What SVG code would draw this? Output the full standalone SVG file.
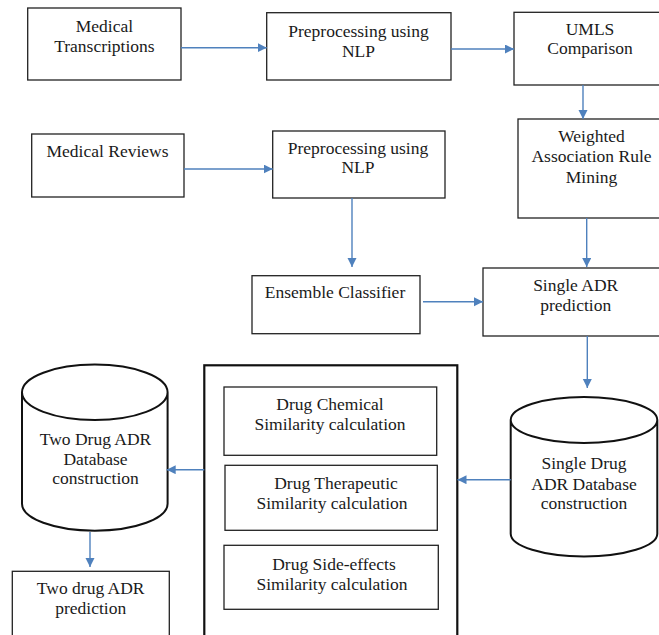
<svg xmlns="http://www.w3.org/2000/svg" width="659" height="635" viewBox="0 0 659 635">
<style>
.box{fill:#fff;stroke:#222;stroke-width:1.3}
.cyl{fill:#fff;stroke:#111;stroke-width:2}
.cont{fill:#fff;stroke:#111;stroke-width:2.2}
.t{font-family:'Liberation Serif','Times New Roman',Times,'DejaVu Serif',serif;font-size:17.5px;fill:#1a1a1a;text-anchor:middle}
.c{fill:none;stroke:#4f81bd;stroke-width:1.4}
</style>
<defs>
<marker id="ah" markerUnits="userSpaceOnUse" markerWidth="10" markerHeight="10" refX="9" refY="4.5" orient="auto">
<path d="M0,0 L9,4.5 L0,9 z" fill="#4f81bd"/>
</marker>
</defs>
<rect width="659" height="635" fill="#fff"/>
<g id="container"><rect class="cont" x="204.3" y="365.3" width="253" height="290"/></g>
<g id="n1"><rect class="box" x="27.7" y="8" width="153.3" height="72"/><text class="t" x="104.4" y="32">Medical</text><text class="t" x="104.4" y="52">Transcriptions</text></g>
<g id="n2"><rect class="box" x="266.7" y="12.7" width="184.3" height="67.3"/><text class="t" x="358.5" y="37">Preprocessing using</text><text class="t" x="358.5" y="57">NLP</text></g>
<g id="n3"><rect class="box" x="514" y="12.3" width="160" height="72.7"/><text class="t" x="590" y="35">UMLS</text><text class="t" x="590" y="54">Comparison</text></g>
<g id="n4"><rect class="box" x="31.7" y="134" width="152.3" height="63"/><text class="t" x="107.5" y="157">Medical Reviews</text></g>
<g id="n5"><rect class="box" x="272.7" y="131" width="172.3" height="67"/><text class="t" x="358" y="154">Preprocessing using</text><text class="t" x="358" y="173">NLP</text></g>
<g id="n6"><rect class="box" x="518" y="119" width="160" height="99"/><text class="t" x="591.5" y="142">Weighted</text><text class="t" x="591.5" y="162">Association Rule</text><text class="t" x="591.5" y="183">Mining</text></g>
<g id="n7"><rect class="box" x="252" y="275.7" width="168" height="58"/><text class="t" x="335" y="298">Ensemble Classifier</text></g>
<g id="n8"><rect class="box" x="483" y="268" width="190" height="68"/><text class="t" x="575.7" y="291">Single ADR</text><text class="t" x="575.7" y="311">prediction</text></g>
<g id="n9"><path class="cyl" d="M510.7,420 L510.7,533.7 A73.3,22.7 0 0 0 657.3,533.7 L657.3,420 A73.3,23 0 0 0 510.7,420 A73.3,23 0 0 0 657.3,420"/><text class="t" x="584" y="468.7">Single Drug</text><text class="t" x="584" y="489.7">ADR Database</text><text class="t" x="584" y="508.7">construction</text></g>
<g id="n10"><rect class="box" x="224" y="387" width="212.7" height="68.3"/><text class="t" x="330" y="410.3">Drug Chemical</text><text class="t" x="330" y="430.3">Similarity calculation</text></g>
<g id="n11"><rect class="box" x="225" y="465.3" width="212.3" height="65"/><text class="t" x="336" y="488.7">Drug Therapeutic</text><text class="t" x="332" y="508.7">Similarity calculation</text></g>
<g id="n12"><rect class="box" x="224" y="545.3" width="214.3" height="64"/><text class="t" x="334" y="569.7">Drug Side-effects</text><text class="t" x="332" y="589.7">Similarity calculation</text></g>
<g id="n13"><path class="cyl" d="M22,392.3 L22,503.7 A72.8,27 0 0 0 167.6,503.7 L167.6,392.3 A72.8,27.7 0 0 0 22,392.3 A72.8,27.7 0 0 0 167.6,392.3"/><text class="t" x="95.5" y="444.7">Two Drug ADR</text><text class="t" x="95.5" y="464.7">Database</text><text class="t" x="95.5" y="483.7">construction</text></g>
<g id="n14"><rect class="box" x="12.3" y="571.3" width="157" height="80"/><text class="t" x="90.7" y="594.3">Two drug ADR</text><text class="t" x="90.7" y="613.7">prediction</text></g>
<g id="connectors">
<path class="c" d="M181,47.7 H266.7" marker-end="url(#ah)"/>
<path class="c" d="M451,49 H514" marker-end="url(#ah)"/>
<path class="c" d="M583,85 V119" marker-end="url(#ah)"/>
<path class="c" d="M184,169 H272.7" marker-end="url(#ah)"/>
<path class="c" d="M352,198 V267" marker-end="url(#ah)"/>
<path class="c" d="M586.7,218 V267" marker-end="url(#ah)"/>
<path class="c" d="M423,301.7 H483" marker-end="url(#ah)"/>
<path class="c" d="M587.3,336 V388" marker-end="url(#ah)"/>
<path class="c" d="M510.7,479.7 H457.5" marker-end="url(#ah)"/>
<path class="c" d="M204.3,469.7 H166.7" marker-end="url(#ah)"/>
<path class="c" d="M90,532 V567" marker-end="url(#ah)"/>
</g>
</svg>
